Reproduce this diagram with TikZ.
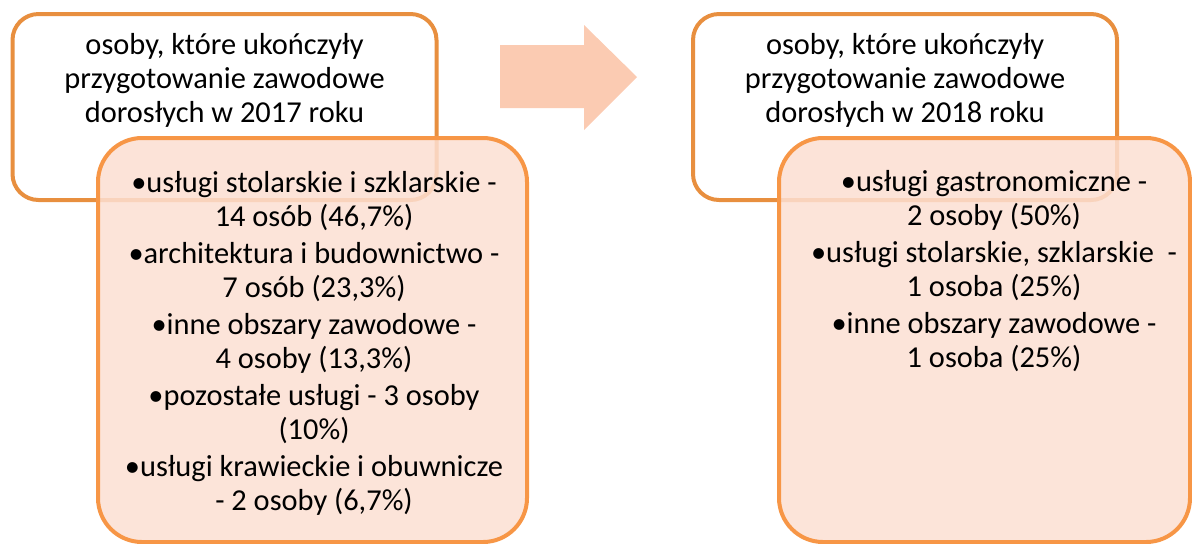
\documentclass[tikz,border=0pt]{standalone}
\usepackage{fontspec}
\setmainfont{Carlito}
\usepackage{xcolor}
\definecolor{topline}{HTML}{E88F3F}
\definecolor{boxline}{HTML}{F79646}
\definecolor{boxfill}{HTML}{FCDFD2}
\definecolor{arrowfill}{HTML}{FBCBB2}
\usetikzlibrary{positioning}

\begin{document}
\begin{tikzpicture}[x=0.5pt, y=-0.5pt,
	headbox/.style={draw=topline, line width=2pt, fill=white, rounded corners=13pt, minimum width=212pt, minimum height=93pt},
	listbox/.style={draw=boxline, line width=2pt, fill=boxfill, fill opacity=0.85, rounded corners=22pt},
	boxtext/.style={align=center, font=\fontsize{15.2}{17}\selectfont, text=black}]
	\useasboundingbox				(0,0) rectangle (1192,543);
	% left pair
	\node[headbox] (head17)			at (224.5,107) {};
	\node[listbox, minimum width=214.5pt, minimum height=202pt] (list17) at (312.5,340) {};
	\node[boxtext] (title17)		at (224.5,80) {osoby, które ukończyły\\przygotowanie zawodowe\\dorosłych w 2017 roku};
	\node[boxtext] (items17)		at (314,343) {•usługi stolarskie i szklarskie -\\14 osób (46,7\%)\\[1.5pt]
		•architektura i budownictwo -\\7 osób (23,3\%)\\[1.5pt]
		•inne obszary zawodowe -\\4 osoby (13,3\%)\\[1.5pt]
		•pozostałe usługi - 3 osoby\\(10\%)\\[1.5pt]
		•usługi krawieckie i obuwnicze\\- 2 osoby (6,7\%)};
	% arrow
	\fill[arrowfill]				(500,45) -- (584,45) -- (584,25) -- (637,77) -- (584,130) -- (584,108) -- (500,108) -- cycle;
	% right pair
	\node[headbox] (head18)			at (905,107) {};
	\node[listbox, minimum width=205.5pt, minimum height=202pt] (list18) at (984.5,340) {};
	\node[boxtext] (title18)		at (905,80) {osoby, które ukończyły\\przygotowanie zawodowe\\dorosłych w 2018 roku};
	\node[boxtext] (items18)		at (994,271.5) {•usługi gastronomiczne -\\2 osoby (50\%)\\[1.5pt]
		•usługi stolarskie, szklarskie~~-\\1 osoba (25\%)\\[1.5pt]
		•inne obszary zawodowe -\\1 osoba (25\%)};
\end{tikzpicture}
\end{document}
